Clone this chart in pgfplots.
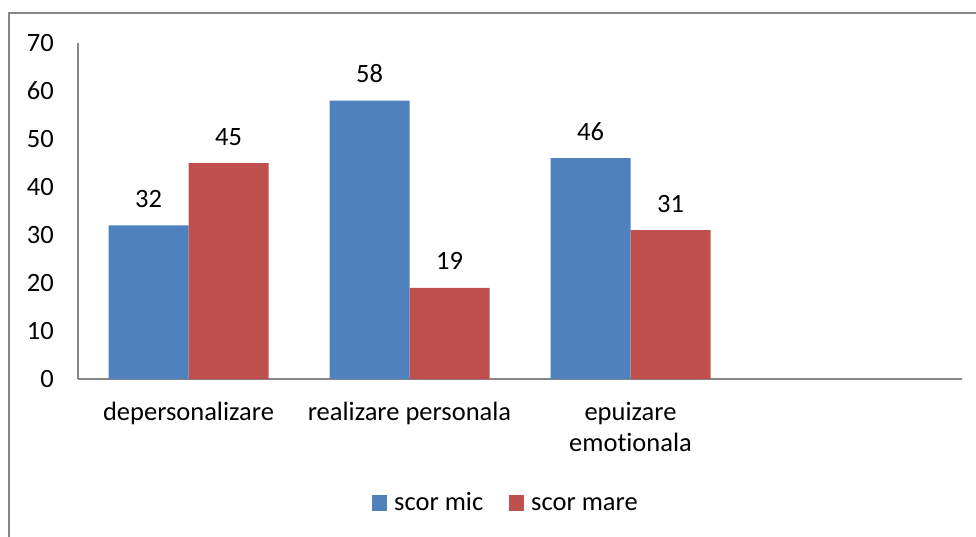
\documentclass[border=0pt]{standalone}
\usepackage{pgfplots}
\pgfplotsset{compat=1.18}
\usepackage{fontspec}
\setmainfont{Carlito}[Ligatures={NoCommon,NoContextual}]
\definecolor{bblue}{HTML}{4F81BD}
\definecolor{bred}{HTML}{C0504D}
\definecolor{lgray}{HTML}{868686}
\newcommand{\cf}{\fontsize{26.5}{31}\selectfont}
\begin{document}
\begin{tikzpicture}[x=1pt,y=1pt]
\clip (0,0) rectangle (976,536);
\draw[lgray, line width=1.3pt] (9,523) rectangle (1000,-20);
\begin{axis}[
  at={(78pt,157pt)}, anchor=south west,
  scale only axis, width=884pt, height=336pt,
  xmin=-0.5, xmax=3.5, ymin=0, ymax=70,
  axis x line=bottom, axis y line=left,
  axis line style={lgray, line width=1.3pt, -},
  major tick length=0pt,
  ytick={0,10,20,30,40,50,60,70},
  xtick={0,1,2,3},
  xticklabels={depersonalizare, realizare personala, {epuizare\\emotionala}, {}},
  xticklabel style={align=center, anchor=north, inner sep=0pt, yshift=-23pt, font=\cf},
  yticklabel style={anchor=east, inner sep=0pt, xshift=-24pt, font=\cf},
  /pgf/number format/assume math mode=true,
  ybar=0pt, bar width=80pt,
  nodes near coords,
  every node near coord/.append style={font=\cf, black, inner sep=0pt, yshift=18pt, anchor=base},
  legend style={at={(0.483,-0.375)}, anchor=center, draw=none, fill=none, legend columns=2,
    font=\cf, nodes={inner sep=0pt, text height=13pt, text depth=5pt},
    /tikz/every odd column/.append style={column sep=7pt},
    /tikz/every even column/.append style={column sep=26pt}},
  legend image code/.code={\fill[#1] (0pt,-4pt) rectangle (15pt,12pt);},
]
\addplot[fill=bblue, draw=none] coordinates {(0,32) (1,58) (2,46)};
\addplot[fill=bred, draw=none] coordinates {(0,45) (1,19) (2,31)};
\legend{scor mic, scor mare}
\end{axis}
\end{tikzpicture}
\end{document}
